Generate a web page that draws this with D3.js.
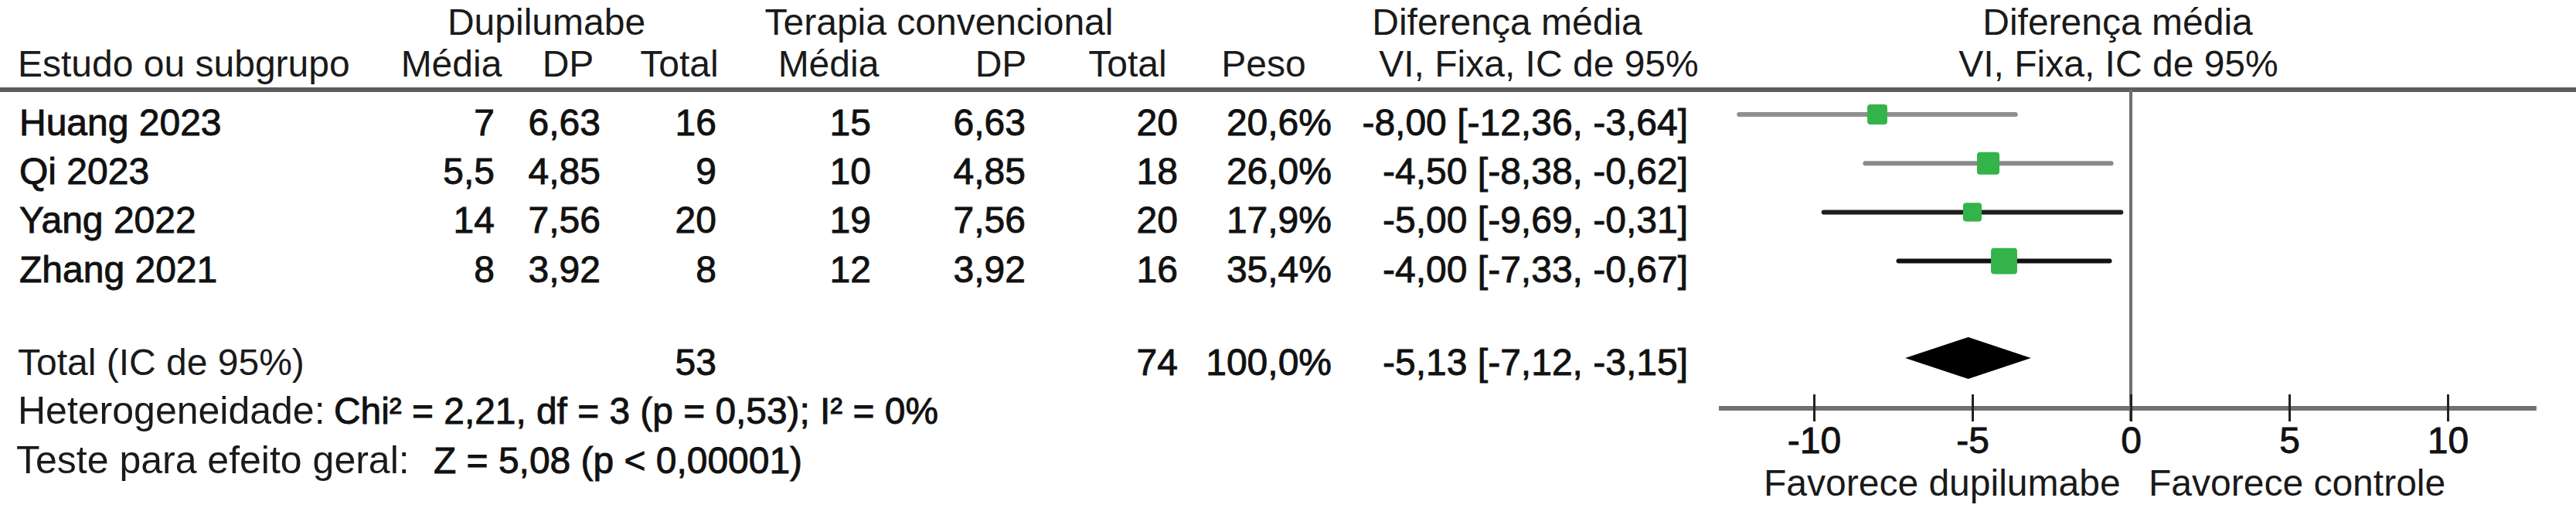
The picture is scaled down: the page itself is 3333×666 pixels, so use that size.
<!DOCTYPE html>
<html>
<head>
<meta charset="utf-8">
<script src="https://cdn.jsdelivr.net/npm/d3@7"></script>
<style>
  html, body { margin: 0; padding: 0; background: #ffffff; }
  svg { display: block; }
  .hdr { font-family: "Liberation Sans", Arial, Helvetica, sans-serif; font-size: 48px; fill: #1a1a1a; }
  .foot { font-family: "Liberation Sans", Arial, Helvetica, sans-serif; font-size: 50px; fill: #1a1a1a; }
  .dat { font-family: "Liberation Sans", Arial, Helvetica, sans-serif; font-size: 48px; fill: #111; stroke: #111; stroke-width: 0.9px; }
</style>
</head>
<body>
<svg id="chart" width="3333" height="666"></svg>
<script>
// ---------------- data ----------------
const studies   = ["Huang 2023", "Qi 2023", "Yang 2022", "Zhang 2021"];
const dupMean   = [7, 5.5, 14, 8];
const dupSD     = [6.63, 4.85, 7.56, 3.92];
const dupN      = [16, 9, 20, 8];
const ctlMean   = [15, 10, 19, 12];
const ctlSD     = [6.63, 4.85, 7.56, 3.92];
const ctlN      = [20, 18, 20, 16];
const weights   = [20.6, 26.0, 17.9, 35.4];
const md        = [-8.00, -4.50, -5.00, -4.00];
const ciLow     = [-12.36, -8.38, -9.69, -7.33];
const ciHigh    = [-3.64, -0.62, -0.31, -0.67];
const totalN    = [53, 74];
const totalW    = [100.0];
const totalMD   = [-5.13, -7.12, -3.15];   // estimate, low, high
const xTicks    = [-10, -5, 0, 5, 10];
const hetText   = "Chi² = 2,21, df = 3 (p = 0,53); I² = 0%";
const testText  = "Z = 5,08 (p < 0,00001)";

// ---------------- helpers ----------------
const loc = d3.formatLocale({decimal: ",", thousands: ".", grouping: [3], currency: ["", ""], minus: "-"});
const f2 = loc.format(".2f");
const f1 = loc.format(".1f");
const fMean = v => Number.isInteger(v) ? loc.format("d")(v) : loc.format(".1f")(v);

const svg = d3.select("#chart");

// x scale for forest plot
const x = d3.scaleLinear().domain([-13, 13]).range([2224, 3290]);
// row scale (study rows 0..3, total row 5)
const rowY = d3.scaleLinear().domain([0, 5]).range([148, 464]);

// ---------------- header ----------------
const hdr = [
  {t: "Dupilumabe", x: 707, y: 45, a: "middle"},
  {t: "Terapia convencional", x: 1215, y: 45, a: "middle"},
  {t: "Diferença média", x: 1950, y: 45, a: "middle"},
  {t: "Diferença média", x: 2740, y: 45, a: "middle"},
  {t: "Estudo ou subgrupo", x: 23, y: 99, a: "start"},
  {t: "Média", x: 584, y: 99, a: "middle"},
  {t: "DP", x: 735, y: 99, a: "middle"},
  {t: "Total", x: 879, y: 99, a: "middle"},
  {t: "Média", x: 1072, y: 99, a: "middle"},
  {t: "DP", x: 1295, y: 99, a: "middle"},
  {t: "Total", x: 1459, y: 99, a: "middle"},
  {t: "Peso", x: 1635, y: 99, a: "middle"},
  {t: "VI, Fixa, IC de 95%", x: 1991, y: 99, a: "middle"},
  {t: "VI, Fixa, IC de 95%", x: 2741, y: 99, a: "middle"}
];
svg.append("g").selectAll("text").data(hdr).join("text")
  .attr("class", "hdr")
  .attr("x", d => d.x).attr("y", d => d.y)
  .attr("text-anchor", d => d.a)
  .text(d => d.t);

// separator line
svg.append("line")
  .attr("x1", 0).attr("x2", 3333).attr("y1", 116).attr("y2", 116)
  .attr("stroke", "#5c5c5c").attr("stroke-width", 6);

// ---------------- table rows ----------------
const cols = [
  {right: 640,  v: i => fMean(dupMean[i])},
  {right: 777,  v: i => f2(dupSD[i])},
  {right: 927,  v: i => String(dupN[i])},
  {right: 1127, v: i => fMean(ctlMean[i])},
  {right: 1327, v: i => f2(ctlSD[i])},
  {right: 1524, v: i => String(ctlN[i])},
  {right: 1723, v: i => f1(weights[i]) + "%"},
  {right: 2184, v: i => f2(md[i]) + " [" + f2(ciLow[i]) + ", " + f2(ciHigh[i]) + "]"}
];

const rows = svg.append("g");
studies.forEach((s, i) => {
  const by = rowY(i) + 27;
  rows.append("text").attr("class", "dat").attr("x", 25).attr("y", by).text(s);
  cols.forEach(c => {
    rows.append("text").attr("class", "dat")
      .attr("x", c.right).attr("y", by).attr("text-anchor", "end")
      .text(c.v(i));
  });
});

// total row
const ty = 485;
rows.append("text").attr("class", "hdr").attr("x", 23).attr("y", ty).text("Total (IC de 95%)");
rows.append("text").attr("class", "dat").attr("x", 927).attr("y", ty).attr("text-anchor", "end").text(String(totalN[0]));
rows.append("text").attr("class", "dat").attr("x", 1524).attr("y", ty).attr("text-anchor", "end").text(String(totalN[1]));
rows.append("text").attr("class", "dat").attr("x", 1723).attr("y", ty).attr("text-anchor", "end").text(f1(totalW[0]) + "%");
rows.append("text").attr("class", "dat").attr("x", 2184).attr("y", ty).attr("text-anchor", "end")
  .text(f2(totalMD[0]) + " [" + f2(totalMD[1]) + ", " + f2(totalMD[2]) + "]");

// heterogeneity / overall test
rows.append("text").attr("class", "foot").attr("x", 23).attr("y", 548).text("Heterogeneidade:");
rows.append("text").attr("class", "dat").attr("x", 432).attr("y", 548)
  .attr("textLength", 782).attr("lengthAdjust", "spacingAndGlyphs").text(hetText);
rows.append("text").attr("class", "foot").attr("x", 21).attr("y", 612).text("Teste para efeito geral:");
rows.append("text").attr("class", "dat").attr("x", 561).attr("y", 612)
  .attr("textLength", 477).attr("lengthAdjust", "spacingAndGlyphs").text(testText);

// ---------------- forest plot ----------------
const plot = svg.append("g");

// zero line
plot.append("line")
  .attr("x1", x(0)).attr("x2", x(0)).attr("y1", 116).attr("y2", 544)
  .attr("stroke", "#6e6e6e").attr("stroke-width", 4);

// axis
const axisY = 528;
plot.append("line")
  .attr("x1", x(-13)).attr("x2", x(12.8)).attr("y1", axisY).attr("y2", axisY)
  .attr("stroke", "#707070").attr("stroke-width", 6);

const axis = d3.axisBottom(x).tickValues(xTicks).tickSize(0).tickFormat(d => loc.format("d")(d));
const ag = plot.append("g").attr("transform", `translate(0,${axisY})`).call(axis);
ag.select(".domain").remove();
ag.selectAll(".tick").append("line")
  .attr("y1", -18).attr("y2", 17).attr("stroke", "#222").attr("stroke-width", 3);
ag.selectAll(".tick text")
  .attr("class", "dat").attr("y", 58).attr("dy", null)
  .attr("fill", "#111");

// CI lines
const ciColors = ["#8f8f8f", "#8a8a8a", "#1e1e1e", "#111111"];
plot.append("g").selectAll("line").data(studies).join("line")
  .attr("x1", (d, i) => x(ciLow[i])).attr("x2", (d, i) => x(ciHigh[i]))
  .attr("y1", (d, i) => rowY(i)).attr("y2", (d, i) => rowY(i))
  .attr("stroke", (d, i) => ciColors[i]).attr("stroke-width", 6).attr("stroke-linecap", "round");

// weight squares
const side = w => 5.7 * Math.sqrt(w);
plot.append("g").selectAll("rect").data(studies).join("rect")
  .attr("x", (d, i) => x(md[i]) - side(weights[i]) / 2)
  .attr("y", (d, i) => rowY(i) - side(weights[i]) / 2)
  .attr("width", (d, i) => side(weights[i]))
  .attr("height", (d, i) => side(weights[i]))
  .attr("rx", 4)
  .attr("fill", "#33b34a");

// diamond
const dy0 = 463, dh = 27;
plot.append("path")
  .attr("d", `M${x(totalMD[1])},${dy0} L${x(totalMD[0])},${dy0 - dh} L${x(totalMD[2])},${dy0} L${x(totalMD[0])},${dy0 + dh} Z`)
  .attr("fill", "#000");

// favours labels
plot.append("text").attr("class", "hdr").attr("x", 2282).attr("y", 641).text("Favorece dupilumabe");
plot.append("text").attr("class", "hdr").attr("x", 2780).attr("y", 641).text("Favorece controle");
</script>
</body>
</html>
